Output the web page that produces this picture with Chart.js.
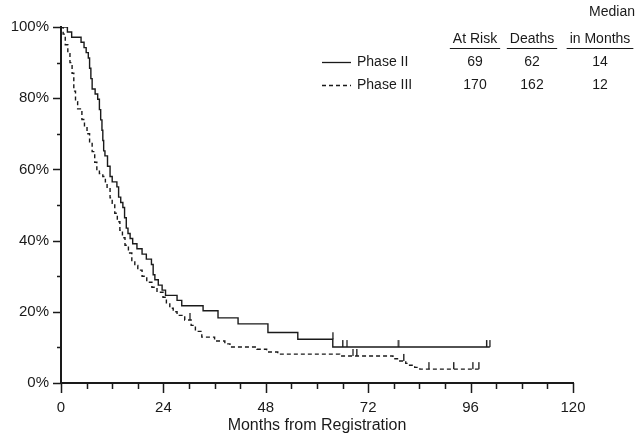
<!DOCTYPE html>
<html>
<head>
<meta charset="utf-8">
<script src="https://cdn.jsdelivr.net/npm/chart.js@4.4.1/dist/chart.umd.min.js"></script>
<style>
  html, body { margin: 0; padding: 0; background: #fff; }
  #wrap { width: 637px; height: 435px; position: relative; }
</style>
</head>
<body>
<div id="wrap"><canvas id="km" width="637" height="435"></canvas></div>
<script>
/* ── Data ── */
const phase2Months = [0, 1.5, 2.5, 4.7, 5.4, 5.9, 6.4, 6.7, 7.0, 7.3, 8.0, 8.6, 9.0, 9.3, 9.6, 9.8, 10.0, 10.3, 10.9, 11.5, 12.0, 13.1, 13.5, 14.0, 14.5, 14.9, 15.3, 15.7, 16.2, 16.8, 17.8, 19.0, 20.0, 21.2, 21.6, 22.0, 22.8, 23.7, 24.5, 27.2, 28.3, 33.3, 36.8, 41.5, 48.5, 55.5, 63.7, 100.5];
const phase2Surv   = [100, 98.6, 97.1, 95.7, 94.2, 92.8, 91.3, 88.4, 85.5, 82.6, 81.2, 79.7, 76.8, 73.9, 71.0, 68.1, 65.2, 63.8, 60.9, 58.0, 56.5, 55.1, 52.2, 50.7, 49.3, 46.4, 43.5, 42.0, 40.6, 39.1, 37.7, 36.2, 34.8, 33.3, 30.4, 29.0, 27.5, 26.1, 24.6, 23.2, 21.7, 20.3, 18.3, 16.6, 14.2, 12.3, 10.1, 10.1];
const phase2CensorMonths = [63.7, 66.0, 67.0, 79.0, 99.7, 100.5];
const phase2CensorSurv   = [12.3, 10.1, 10.1, 10.1, 10.1, 10.1];

const phase3Months = [0, 0.5, 1.0, 1.6, 2.1, 2.6, 3.0, 3.4, 3.9, 4.9, 5.5, 6.1, 6.7, 7.3, 7.9, 8.4, 9.0, 9.8, 10.4, 10.8, 11.5, 12.0, 12.6, 13.2, 13.8, 14.4, 15.0, 15.8, 16.6, 17.3, 18.0, 19.0, 20.1, 21.3, 22.5, 23.9, 24.7, 25.5, 26.3, 27.2, 29.0, 30.5, 31.5, 33.0, 36.0, 38.4, 39.6, 45.9, 48.2, 50.8, 65.3, 77.8, 79.4, 80.8, 81.7, 82.9, 84.1, 97.9];
const phase3Surv   = [100, 98, 95, 92.5, 90, 87, 82, 79, 77, 74, 72, 70, 67.5, 65, 62, 59.7, 58.8, 58, 56.5, 55, 52, 50.5, 47.7, 45.3, 42.9, 40.8, 38.7, 36.5, 34.4, 33, 31.7, 30, 28.3, 26.9, 25.5, 24.1, 22.5, 21, 20, 19, 17.7, 16.2, 14.5, 12.9, 11.8, 11, 10.1, 9.5, 8.7, 8.1, 7.6, 6.8, 6.2, 5.5, 5.0, 4.4, 3.9, 3.9];
const phase3CensorMonths = [30.2, 68.4, 69.3, 80.3, 86.2, 92.0, 96.5, 97.9];
const phase3CensorSurv   = [17.7, 7.6, 7.6, 6.2, 3.9, 3.9, 3.9, 3.9];

/* legend table */
const groupNames = ['Phase II', 'Phase III'];
const atRisk     = [69, 170];
const deaths     = [62, 162];
const medians    = [14, 12];

const xMajorTicks = [0, 24, 48, 72, 96, 120];
const yMajorTicks = [0, 20, 40, 60, 80, 100];

const INK = '#1a1a1a';
const FONT = '"Liberation Sans", Arial, sans-serif';

/* upward censor tick drawn as point image */
function censorTick() {
  const c = document.createElement('canvas');
  c.width = 3; c.height = 16;
  const g = c.getContext('2d');
  g.fillStyle = INK;
  g.fillRect(1, 1, 1.4, 7);
  return c;
}
const tickImg = censorTick();

const toXY = (xs, ys) => xs.map((x, i) => ({ x, y: ys[i] }));

/* ── Plugins ── */
const axisTicks = {
  id: 'axisTicks',
  afterDraw(chart) {
    const { ctx, scales: { x, y } } = chart;
    ctx.save();
    ctx.strokeStyle = INK;
    ctx.lineWidth = 1.5;
    ctx.beginPath();
    for (let v = 0; v <= 120; v += 6) {
      const px = Math.round(x.getPixelForValue(v)) + 0.5;
      const len = xMajorTicks.includes(v) ? 10 : 6;
      ctx.moveTo(px, y.bottom);
      ctx.lineTo(px, y.bottom + len);
    }
    for (let v = 0; v <= 100; v += 10) {
      const py = Math.round(y.getPixelForValue(v)) + 0.5;
      const len = yMajorTicks.includes(v) ? 8 : 4;
      ctx.moveTo(x.left, py);
      ctx.lineTo(x.left - len, py);
    }
    ctx.stroke();
    ctx.restore();
  }
};

const tableLegend = {
  id: 'tableLegend',
  afterDraw(chart) {
    const ctx = chart.ctx;
    ctx.save();
    ctx.fillStyle = INK;
    ctx.strokeStyle = INK;
    ctx.font = '14px ' + FONT;
    ctx.textBaseline = 'middle';
    ctx.textAlign = 'center';
    const cols = [475, 532, 600];
    ctx.fillText('Median', 612, 12);
    const heads = ['At Risk', 'Deaths', 'in Months'];
    heads.forEach((h, i) => {
      ctx.fillText(h, cols[i], 39);
      const w = ctx.measureText(h).width;
      ctx.lineWidth = 1;
      ctx.beginPath();
      ctx.moveTo(cols[i] - w / 2 - 3, 48.5);
      ctx.lineTo(cols[i] + w / 2 + 3, 48.5);
      ctx.stroke();
    });
    const rows = [62, 85];
    groupNames.forEach((name, i) => {
      const ry = rows[i];
      ctx.lineWidth = 1.3;
      ctx.setLineDash(i === 0 ? [] : [4, 3]);
      ctx.beginPath();
      ctx.moveTo(322, ry + 0.5);
      ctx.lineTo(351, ry + 0.5);
      ctx.stroke();
      ctx.setLineDash([]);
      ctx.textAlign = 'left';
      ctx.fillText(name, 357, ry);
      ctx.textAlign = 'center';
      ctx.fillText(String(atRisk[i]), cols[0], ry);
      ctx.fillText(String(deaths[i]), cols[1], ry);
      ctx.fillText(String(medians[i]), cols[2], ry);
    });
    ctx.restore();
  }
};

new Chart(document.getElementById('km'), {
  type: 'line',
  data: {
    datasets: [
      {
        label: groupNames[0],
        data: toXY(phase2Months, phase2Surv),
        stepped: 'before',
        borderColor: INK,
        borderWidth: 1.4,
        pointRadius: 0,
        fill: false,
      },
      {
        label: groupNames[1],
        data: toXY(phase3Months, phase3Surv),
        stepped: 'before',
        borderColor: INK,
        borderWidth: 1.4,
        borderDash: [4, 3],
        pointRadius: 0,
        fill: false,
      },
      {
        type: 'scatter',
        label: 'censored II',
        data: toXY(phase2CensorMonths, phase2CensorSurv),
        pointStyle: tickImg,
        pointRadius: 8,
        showLine: false,
      },
      {
        type: 'scatter',
        label: 'censored III',
        data: toXY(phase3CensorMonths, phase3CensorSurv),
        pointStyle: tickImg,
        pointRadius: 8,
        showLine: false,
      },
    ],
  },
  options: {
    responsive: false,
    animation: false,
    layout: { padding: { left: 0, top: 27, right: 64, bottom: 0 } },
    plugins: { legend: { display: false }, tooltip: { enabled: false } },
    scales: {
      x: {
        type: 'linear',
        min: 0,
        max: 120,
        afterFit: s => { s.height = 52; },
        grid: { display: false, drawTicks: false },
        border: { display: true, color: INK, width: 2 },
        ticks: {
          stepSize: 24,
          padding: 16,
          color: INK,
          font: { family: FONT, size: 15 },
          maxRotation: 0,
        },
        title: {
          display: true,
          text: 'Months from Registration',
          color: INK,
          font: { family: FONT, size: 16 },
          padding: { top: 0, bottom: 0 },
        },
      },
      y: {
        min: 0,
        max: 100,
        afterFit: s => { s.width = 61; },
        grid: { display: false, drawTicks: false },
        border: { display: true, color: INK, width: 2 },
        ticks: {
          stepSize: 20,
          padding: 12,
          color: INK,
          font: { family: FONT, size: 15 },
          callback: v => v + '%',
        },
      },
    },
  },
  plugins: [axisTicks, tableLegend],
});
</script>
</body>
</html>
